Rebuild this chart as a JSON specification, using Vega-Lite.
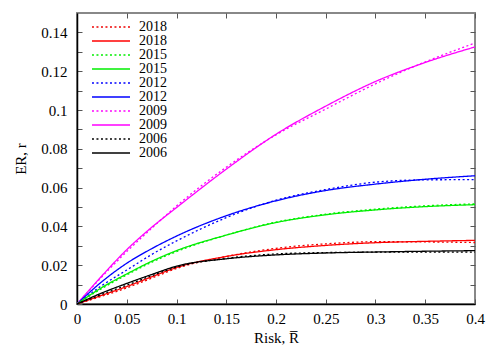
{
  "$schema": "https://vega.github.io/schema/vega-lite/v6.json",
  "width": 398,
  "height": 291,
  "autosize": {"type": "none"},
  "padding": {"left": 77, "top": 13, "right": 25, "bottom": 46},
  "background": "white",
  "config": {
    "font": "Liberation Serif",
    "view": {"stroke": "#888888", "strokeWidth": 2},
    "axis": {"grid": false, "labelFont": "Liberation Serif", "titleFont": "Liberation Serif", "labelFontSize": 15, "titleFontSize": 15, "titleFontWeight": "normal", "labelColor": "black", "titleColor": "black", "tickColor": "#555555", "domainColor": "black", "domainWidth": 1.5, "tickSize": -5, "tickWidth": 1},
    "legend": {"labelFont": "Liberation Serif"}
  },
  "data": {"values": [
    {"s": "2009s", "x": 0, "y": 0}, {"s": "2009s", "x": 0.025, "y": 0.0145}, {"s": "2009s", "x": 0.05, "y": 0.028}, {"s": "2009s", "x": 0.075, "y": 0.0395}, {"s": "2009s", "x": 0.1, "y": 0.0497}, {"s": "2009s", "x": 0.15, "y": 0.0695}, {"s": "2009s", "x": 0.2, "y": 0.0875}, {"s": "2009s", "x": 0.25, "y": 0.102}, {"s": "2009s", "x": 0.3, "y": 0.1147}, {"s": "2009s", "x": 0.35, "y": 0.1245}, {"s": "2009s", "x": 0.4, "y": 0.1325},
    {"s": "2009d", "x": 0, "y": 0}, {"s": "2009d", "x": 0.025, "y": 0.014}, {"s": "2009d", "x": 0.05, "y": 0.027}, {"s": "2009d", "x": 0.075, "y": 0.039}, {"s": "2009d", "x": 0.1, "y": 0.0505}, {"s": "2009d", "x": 0.15, "y": 0.0705}, {"s": "2009d", "x": 0.2, "y": 0.0872}, {"s": "2009d", "x": 0.25, "y": 0.1005}, {"s": "2009d", "x": 0.3, "y": 0.1135}, {"s": "2009d", "x": 0.35, "y": 0.1248}, {"s": "2009d", "x": 0.4, "y": 0.1345},
    {"s": "2012s", "x": 0, "y": 0}, {"s": "2012s", "x": 0.025, "y": 0.0115}, {"s": "2012s", "x": 0.05, "y": 0.021}, {"s": "2012s", "x": 0.075, "y": 0.0285}, {"s": "2012s", "x": 0.1, "y": 0.035}, {"s": "2012s", "x": 0.15, "y": 0.0455}, {"s": "2012s", "x": 0.2, "y": 0.0532}, {"s": "2012s", "x": 0.25, "y": 0.0585}, {"s": "2012s", "x": 0.3, "y": 0.0618}, {"s": "2012s", "x": 0.35, "y": 0.0643}, {"s": "2012s", "x": 0.4, "y": 0.0661},
    {"s": "2012d", "x": 0, "y": 0}, {"s": "2012d", "x": 0.025, "y": 0.0095}, {"s": "2012d", "x": 0.05, "y": 0.0175}, {"s": "2012d", "x": 0.075, "y": 0.0255}, {"s": "2012d", "x": 0.1, "y": 0.0325}, {"s": "2012d", "x": 0.15, "y": 0.0445}, {"s": "2012d", "x": 0.2, "y": 0.0535}, {"s": "2012d", "x": 0.25, "y": 0.059}, {"s": "2012d", "x": 0.3, "y": 0.0628}, {"s": "2012d", "x": 0.35, "y": 0.064}, {"s": "2012d", "x": 0.4, "y": 0.0641},
    {"s": "2015s", "x": 0, "y": 0}, {"s": "2015s", "x": 0.025, "y": 0.0085}, {"s": "2015s", "x": 0.05, "y": 0.0155}, {"s": "2015s", "x": 0.075, "y": 0.022}, {"s": "2015s", "x": 0.1, "y": 0.0275}, {"s": "2015s", "x": 0.15, "y": 0.0355}, {"s": "2015s", "x": 0.2, "y": 0.042}, {"s": "2015s", "x": 0.25, "y": 0.046}, {"s": "2015s", "x": 0.3, "y": 0.0485}, {"s": "2015s", "x": 0.35, "y": 0.0502}, {"s": "2015s", "x": 0.4, "y": 0.0512},
    {"s": "2015d", "x": 0, "y": 0}, {"s": "2015d", "x": 0.025, "y": 0.008}, {"s": "2015d", "x": 0.05, "y": 0.015}, {"s": "2015d", "x": 0.075, "y": 0.0215}, {"s": "2015d", "x": 0.1, "y": 0.027}, {"s": "2015d", "x": 0.15, "y": 0.0355}, {"s": "2015d", "x": 0.2, "y": 0.0422}, {"s": "2015d", "x": 0.25, "y": 0.0463}, {"s": "2015d", "x": 0.3, "y": 0.0489}, {"s": "2015d", "x": 0.35, "y": 0.0506}, {"s": "2015d", "x": 0.4, "y": 0.0516},
    {"s": "2018s", "x": 0, "y": 0}, {"s": "2018s", "x": 0.025, "y": 0.0045}, {"s": "2018s", "x": 0.05, "y": 0.009}, {"s": "2018s", "x": 0.075, "y": 0.014}, {"s": "2018s", "x": 0.1, "y": 0.0188}, {"s": "2018s", "x": 0.15, "y": 0.0245}, {"s": "2018s", "x": 0.2, "y": 0.028}, {"s": "2018s", "x": 0.25, "y": 0.0302}, {"s": "2018s", "x": 0.3, "y": 0.0316}, {"s": "2018s", "x": 0.35, "y": 0.0323}, {"s": "2018s", "x": 0.4, "y": 0.0328},
    {"s": "2018d", "x": 0, "y": 0}, {"s": "2018d", "x": 0.025, "y": 0.004}, {"s": "2018d", "x": 0.05, "y": 0.0083}, {"s": "2018d", "x": 0.075, "y": 0.0133}, {"s": "2018d", "x": 0.1, "y": 0.0183}, {"s": "2018d", "x": 0.15, "y": 0.0245}, {"s": "2018d", "x": 0.2, "y": 0.0287}, {"s": "2018d", "x": 0.25, "y": 0.031}, {"s": "2018d", "x": 0.3, "y": 0.0321}, {"s": "2018d", "x": 0.35, "y": 0.032}, {"s": "2018d", "x": 0.4, "y": 0.0317},
    {"s": "2006s", "x": 0, "y": 0}, {"s": "2006s", "x": 0.025, "y": 0.0057}, {"s": "2006s", "x": 0.05, "y": 0.0106}, {"s": "2006s", "x": 0.075, "y": 0.0152}, {"s": "2006s", "x": 0.1, "y": 0.0195}, {"s": "2006s", "x": 0.15, "y": 0.0233}, {"s": "2006s", "x": 0.2, "y": 0.0253}, {"s": "2006s", "x": 0.25, "y": 0.0263}, {"s": "2006s", "x": 0.3, "y": 0.0268}, {"s": "2006s", "x": 0.35, "y": 0.0272}, {"s": "2006s", "x": 0.4, "y": 0.0275},
    {"s": "2006d", "x": 0, "y": 0}, {"s": "2006d", "x": 0.025, "y": 0.005}, {"s": "2006d", "x": 0.05, "y": 0.0097}, {"s": "2006d", "x": 0.075, "y": 0.0146}, {"s": "2006d", "x": 0.1, "y": 0.019}, {"s": "2006d", "x": 0.15, "y": 0.0235}, {"s": "2006d", "x": 0.2, "y": 0.0258}, {"s": "2006d", "x": 0.25, "y": 0.0265}, {"s": "2006d", "x": 0.3, "y": 0.0267}, {"s": "2006d", "x": 0.35, "y": 0.0267}, {"s": "2006d", "x": 0.4, "y": 0.0267}
  ]},
  "layer": [
    {
      "mark": {"type": "line", "interpolate": "monotone", "strokeWidth": 1.3, "clip": true},
      "encoding": {
        "x": {"field": "x", "type": "quantitative", "scale": {"domain": [0, 0.4], "nice": false},
          "axis": {"orient": "bottom", "values": [0, 0.05, 0.1, 0.15, 0.2, 0.25, 0.3, 0.35, 0.4], "labelExpr": "datum.value + ''", "labelPadding": 12, "title": "Risk, R̅", "titlePadding": 4, "labelFlush": false}},
        "y": {"field": "y", "type": "quantitative", "scale": {"domain": [0, 0.15], "nice": false},
          "axis": {"orient": "left", "values": [0, 0.01, 0.02, 0.03, 0.04, 0.05, 0.06, 0.07, 0.08, 0.09, 0.1, 0.11, 0.12, 0.13, 0.14], "labelExpr": "round(datum.value * 100) % 2 == 0 ? datum.value + '' : ''", "labelPadding": 15, "title": "ER, r", "titlePadding": 12, "labelFlush": false}},
        "color": {"field": "s", "type": "nominal",
          "scale": {"domain": ["2018d", "2018s", "2015d", "2015s", "2012d", "2012s", "2009d", "2009s", "2006d", "2006s"],
                    "range": ["#ee0000", "#ff0000", "#00ee00", "#00ee00", "#0000ff", "#0000ff", "#ff00ff", "#ff00ff", "#000000", "#000000"]},
          "legend": {"orient": "none", "legendX": 14, "legendY": 7, "title": null, "symbolType": "stroke", "symbolSize": 1450, "clipHeight": 14, "symbolStrokeWidth": 1.3, "labelExpr": "slice(datum.label, 0, 4)", "labelFont": "Liberation Serif", "labelFontSize": 14, "labelColor": "black", "labelOffset": 8, "rowPadding": 0, "padding": 0}},
        "strokeDash": {"field": "s", "type": "nominal",
          "scale": {"domain": ["2018d", "2018s", "2015d", "2015s", "2012d", "2012s", "2009d", "2009s", "2006d", "2006s"],
                    "range": [[2, 2.5], [1, 0], [2, 2.5], [1, 0], [2, 2.5], [1, 0], [2, 2.5], [1, 0], [2, 2.5], [1, 0]]}}
      }
    },
    {
      "mark": {"type": "line", "opacity": 0},
      "encoding": {
        "x": {"field": "x", "type": "quantitative", "axis": {"orient": "top", "values": [0, 0.05, 0.1, 0.15, 0.2, 0.25, 0.3, 0.35, 0.4], "labels": false, "domain": false, "title": null}},
        "y": {"field": "y", "type": "quantitative", "axis": {"orient": "right", "values": [0.01, 0.02, 0.03, 0.04, 0.05, 0.06, 0.07, 0.08, 0.09, 0.1, 0.11, 0.12, 0.13, 0.14], "labels": false, "domain": false, "title": null}},
        "detail": {"field": "s", "type": "nominal"}
      }
    }
  ],
  "resolve": {"axis": {"x": "independent", "y": "independent"}}
}
